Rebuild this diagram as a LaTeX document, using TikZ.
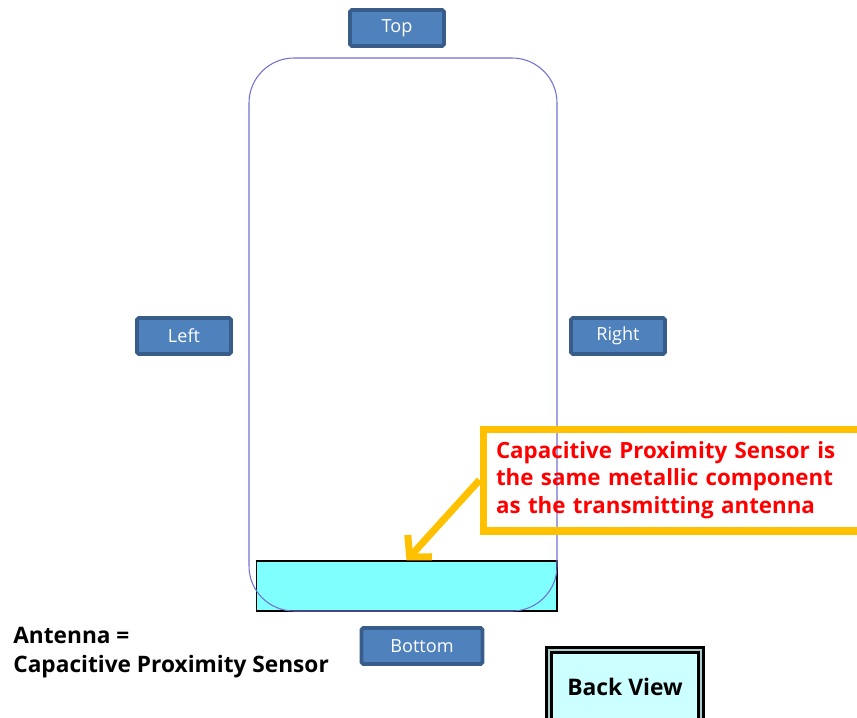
\documentclass[tikz,border=0pt]{standalone}
\usepackage{fontspec}
\setmainfont{Open Sans}
\usetikzlibrary{arrows.meta}

\definecolor{tagfill}{RGB}{79,129,189}
\definecolor{tagline}{RGB}{56,93,138}
\definecolor{phoneline}{RGB}{112,112,210}
\definecolor{calloutline}{RGB}{255,192,0}
\definecolor{antennafill}{RGB}{128,255,255}
\definecolor{viewfill}{RGB}{204,255,255}

\begin{document}
\begin{tikzpicture}[x=0.02cm,y=-0.02cm,
  tag/.style={draw=tagline,fill=tagfill,line width=2.2pt,rounded corners=1pt,
              text=white,font=\fontsize{10.3}{12}\selectfont,
              minimum width=1.88cm,minimum height=0.72cm,inner sep=0pt},
  note/.style={font=\bfseries\fontsize{12.9}{16.5}\selectfont,align=left,anchor=west,inner sep=0pt}]
\useasboundingbox (0,0) rectangle (857,717);

\node[draw=black,fill=antennafill,line width=0.6pt,minimum width=6.02cm,minimum height=1cm,inner sep=0pt] (antenna) at (406.5,586) {};
\draw[phoneline,line width=0.6pt,rounded corners=0.9cm] (249,58) rectangle (557,611);

\node[tag] (top)    at (397,28)  {Top};
\node[tag] (left)   at (184,336) {Left};
\node[tag] (right)  at (618,336) {Right};
\node[tag,minimum width=2.42cm] (bottom) at (422,646) {Bottom};

\node[draw=calloutline,line width=4pt,anchor=west,minimum height=2.04cm,
      text width=7.2cm,inner xsep=0.26cm,align=left,text=red,
      font=\bfseries\fontsize{12.7}{15.8}\selectfont] (callout) at (479.5,480)
  {Capacitive Proximity Sensor is\\the same metallic component\\as the transmitting antenna};

\node[note] (equal) at (13,653) {Antenna =\\Capacitive Proximity Sensor};

\node[draw=black,line width=1.6pt,double=viewfill!60!gray,double distance=1pt,fill=viewfill,
      minimum width=3.04cm,minimum height=1.6cm] (view) at (625,690) {};
\node (viewtext) at (625,687) {\bfseries\fontsize{13}{16}\selectfont Back View};

\path[calloutline,line width=4pt,-{Straight Barb[length=3mm,width=6.5mm]}]
  (callout.west) edge (antenna.north);
\end{tikzpicture}
\end{document}
